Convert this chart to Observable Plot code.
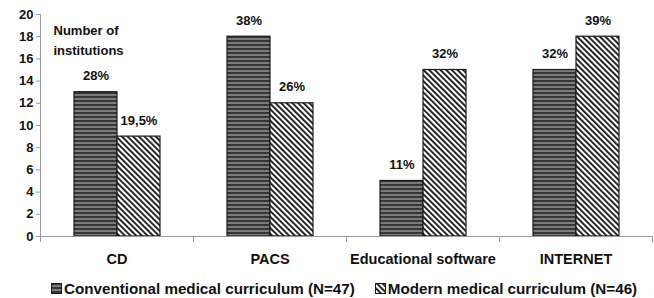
<!DOCTYPE html>
<html>
<head>
<meta charset="utf-8">
<script src="https://cdn.jsdelivr.net/npm/d3@7"></script>
<script src="https://cdn.jsdelivr.net/npm/@observablehq/plot@0.6"></script>
<style>
  html, body { margin: 0; padding: 0; background: #fff; }
  body { width: 654px; height: 298px; overflow: hidden; font-family: "Liberation Sans", Arial, sans-serif; }
  #legend { display: flex; align-items: center; height: 20px; margin-top: 8px; padding-left: 51px;
            font-size: 15.2px; font-weight: bold; color: #111; white-space: nowrap; }
  #legend .item { display: flex; align-items: center; }
  #legend .item + .item { margin-left: 20px; }
  #legend svg { margin-right: 2px; }
</style>
</head>
<body>
<div id="chart"></div>
<div id="legend"></div>
<script>
const categories = ["CD", "PACS", "Educational software", "INTERNET"];
const seriesNames = ["Conventional medical curriculum (N=47)", "Modern medical curriculum (N=46)"];
const conventionalValues = [13, 18, 5, 15];
const modernValues = [9, 12, 15, 18];
const conventionalLabels = ["28%", "38%", "11%", "32%"];
const modernLabels = ["19,5%", "26%", "32%", "39%"];
const yTicks = [0, 2, 4, 6, 8, 10, 12, 14, 16, 18, 20];
const yLabel = "Number of\ninstitutions";

const fills = ["url(#conv-pat)", "url(#mod-pat)"];

const rows = [];
categories.forEach((c, i) => {
  rows.push({category: c, series: seriesNames[0], value: conventionalValues[i], label: conventionalLabels[i]});
  rows.push({category: c, series: seriesNames[1], value: modernValues[i], label: modernLabels[i]});
});

const font = '"Liberation Sans", Arial, sans-serif';
const axisGray = "#9a9a9a";

const plot = Plot.plot({
  width: 654,
  height: 270,
  marginLeft: 39,
  marginRight: 2,
  marginTop: 14,
  marginBottom: 34,
  style: {fontFamily: font, background: "#fff", color: "#111", overflow: "visible"},
  fx: {domain: categories, padding: 0, axis: null, label: null},
  x: {domain: seriesNames, paddingInner: 0, paddingOuter: 0.74, axis: null, label: null},
  y: {domain: [0, 20], axis: null, label: null},
  color: {domain: seriesNames, range: fills},
  marks: [
    Plot.barY(rows, {fx: "category", x: "series", y: "value", fill: "series", stroke: "#1a1a1a", strokeWidth: 1.2}),
    Plot.ruleY([0], {stroke: axisGray, strokeWidth: 1}),
    Plot.frame({anchor: "left", facetAnchor: "left", stroke: axisGray}),
    Plot.frame({anchor: "left", stroke: axisGray, insetTop: 222, insetBottom: -5}),
    Plot.frame({anchor: "right", facetAnchor: "right", stroke: axisGray, insetTop: 222, insetBottom: -5}),
    Plot.axisY({ticks: yTicks, tickSize: 4, tickPadding: 3, stroke: axisGray, fill: "#111",
                fontSize: 13, fontWeight: "bold", label: null}),
    Plot.axisFx({anchor: "bottom", tickSize: 0, tickPadding: 17, fontSize: 14.5, fontWeight: "bold",
                 fill: "#111", label: null}),
    Plot.text(rows, {fx: "category", x: "series", y: "value", text: "label", dy: -16,
                     fontSize: 13, fontWeight: "bold", fill: "#111"}),
    Plot.text([{category: categories[0], t: yLabel}], {fx: "category", text: "t", frameAnchor: "top-left",
                     textAnchor: "start", lineAnchor: "top", dx: 13, dy: 7, lineHeight: 1.5,
                     fontSize: 13, fontWeight: "bold", fill: "#111"})
  ]
});

const defs = d3.select(plot).insert("defs", ":first-child");
const conv = defs.append("pattern").attr("id", "conv-pat").attr("patternUnits", "userSpaceOnUse")
  .attr("width", 8).attr("height", 4);
conv.append("rect").attr("width", 8).attr("height", 4).attr("fill", "#363636");
conv.append("rect").attr("y", 2.4).attr("width", 8).attr("height", 1.2).attr("fill", "#a8a8a8");
const mod = defs.append("pattern").attr("id", "mod-pat").attr("patternUnits", "userSpaceOnUse")
  .attr("width", 4).attr("height", 8).attr("patternTransform", "rotate(-45)");
mod.append("rect").attr("width", 4).attr("height", 8).attr("fill", "#fff");
mod.append("rect").attr("width", 1.8).attr("height", 8).attr("fill", "#111");

document.getElementById("chart").appendChild(plot);

const legend = d3.select("#legend");
seriesNames.forEach((name, i) => {
  const item = legend.append("div").attr("class", "item");
  const sw = item.append("svg").attr("width", 11).attr("height", 11);
  sw.append("rect").attr("x", 0.5).attr("y", 0.5).attr("width", 10).attr("height", 10)
    .attr("fill", fills[i]).attr("stroke", "#1a1a1a").attr("stroke-width", 1);
  item.append("span").text(name);
});
</script>
</body>
</html>
